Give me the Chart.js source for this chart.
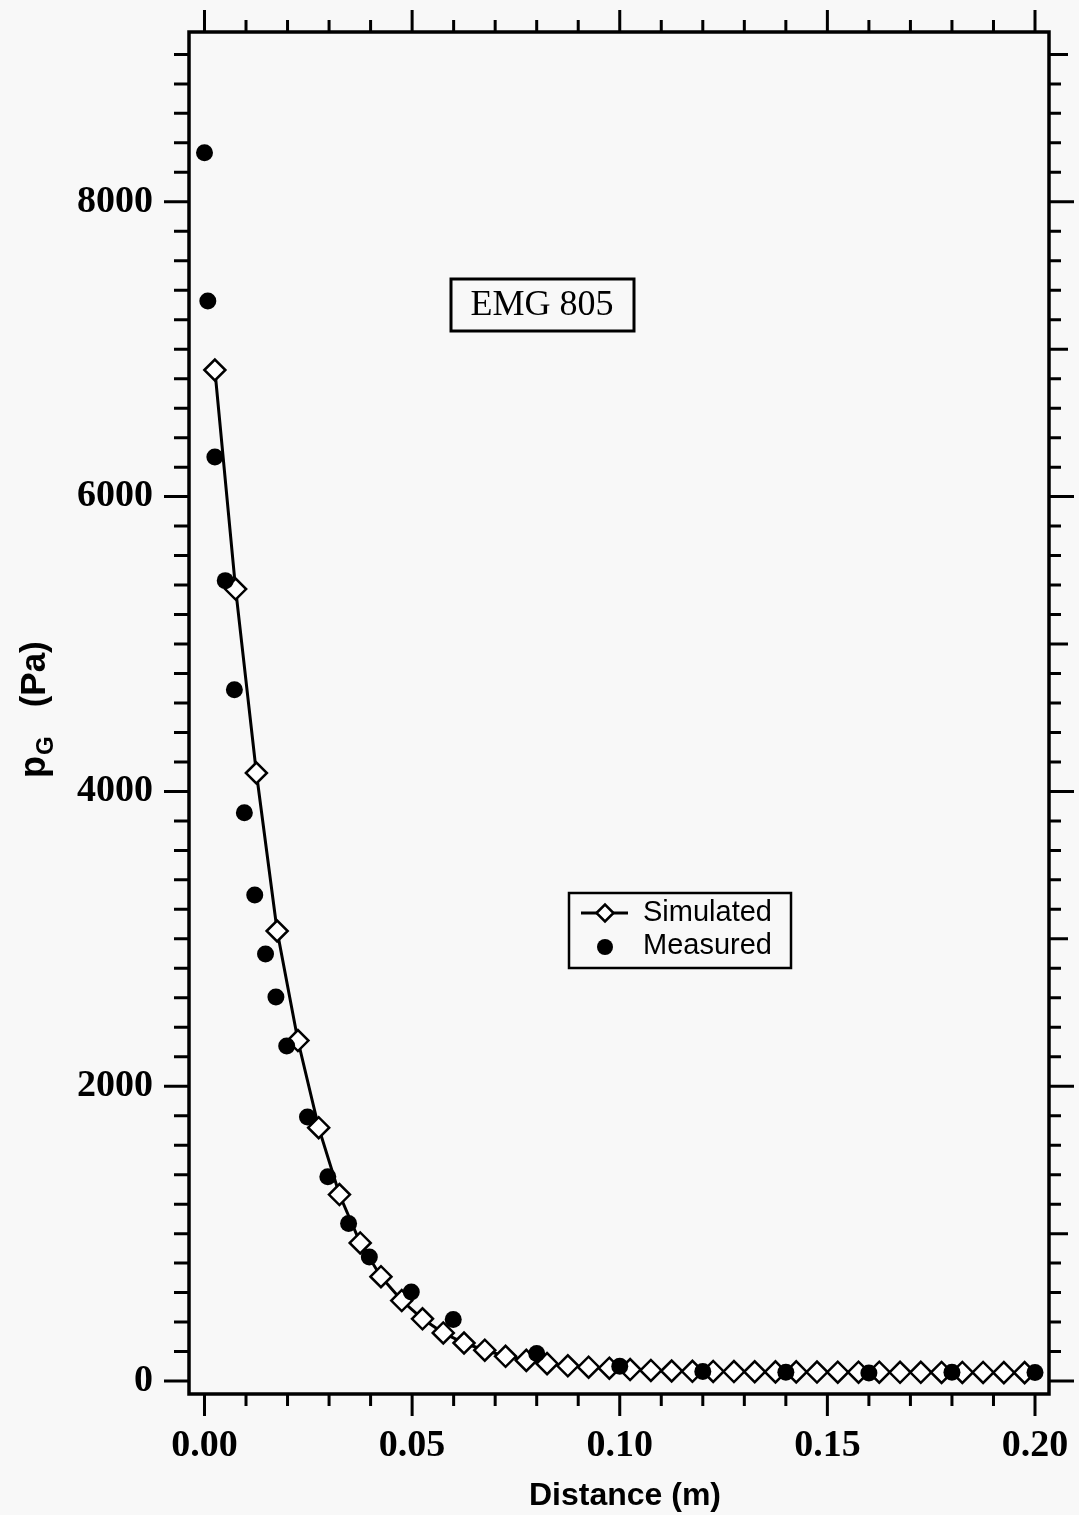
<!DOCTYPE html>
<html>
<head>
<meta charset="utf-8">
<title>EMG 805 gas pressure</title>
<script src="https://cdn.jsdelivr.net/npm/chart.js@4.4.0/dist/chart.umd.min.js"></script>
<style>
  html, body { margin: 0; padding: 0; background: #f8f8f8; }
  canvas { display: block; }
</style>
</head>
<body>
<canvas id="chart" width="1079" height="1515"></canvas>
<script>
// simulated profile (diamonds + line)
const simDistance = [
  0.0025, 0.0075, 0.0125, 0.0175, 0.0225, 0.0275, 0.0325, 0.0375, 0.0425, 0.0475,
  0.0525, 0.0575, 0.0625, 0.0675, 0.0725, 0.0775, 0.0825, 0.0875, 0.0925, 0.0975,
  0.1025, 0.1075, 0.1125, 0.1175, 0.1225, 0.1275, 0.1325, 0.1375, 0.1425, 0.1475,
  0.1525, 0.1575, 0.1625, 0.1675, 0.1725, 0.1775, 0.1825, 0.1875, 0.1925, 0.1975
];
const simPressure = [
  6859, 5373, 4125, 3053, 2310, 1719, 1265, 937, 708, 546,
  422, 326, 258, 209, 168, 140, 118, 103, 94, 87,
  78, 72, 68, 66, 65, 64, 63, 62, 62, 61,
  60, 60, 60, 59, 59, 58, 58, 58, 57, 57
];

// measured points (filled circles)
const measDistance = [
  0.0, 0.0008, 0.0025, 0.005, 0.0072, 0.0096, 0.0121, 0.0147, 0.0172, 0.0198,
  0.0248, 0.0297, 0.0347, 0.0397, 0.0498, 0.0599, 0.080, 0.100, 0.120, 0.140,
  0.160, 0.180, 0.200
];
const measPressure = [
  8333, 7327, 6269, 5430, 4690, 3855, 3297, 2897, 2605, 2273,
  1791, 1386, 1069, 841, 604, 417, 187, 100, 65, 60,
  55, 60, 58
];

const xTickLabels = [0, 0.05, 0.10, 0.15, 0.20];
const yTickLabels = [0, 2000, 4000, 6000, 8000];

const xMin = -0.00373, xMax = 0.20337;
const yMin = -88, yMax = 9152;

const toPoints = (xs, ys) => xs.map((x, i) => ({ x: x, y: ys[i] }));

function diamond(ctx, x, y, r) {
  ctx.beginPath();
  ctx.moveTo(x - r, y);
  ctx.lineTo(x, y - r);
  ctx.lineTo(x + r, y);
  ctx.lineTo(x, y + r);
  ctx.closePath();
  ctx.fill();
  ctx.stroke();
}

const framePlugin = {
  id: 'frame',
  afterDraw(chart) {
    const { ctx, chartArea: a, scales } = chart;
    const xs = scales.x, ys = scales.y;
    ctx.save();
    ctx.strokeStyle = '#000';
    ctx.fillStyle = '#000';

    // box round the plot
    ctx.lineWidth = 3.5;
    ctx.strokeRect(a.left, a.top, a.right - a.left, a.bottom - a.top);

    // outward ticks on all four sides
    ctx.lineWidth = 3;
    ctx.beginPath();
    for (let i = 0; i <= 20; i++) {
      const px = xs.getPixelForValue(i / 100);
      const len = i % 5 === 0 ? 22 : 12;
      ctx.moveTo(px, a.bottom); ctx.lineTo(px, a.bottom + len);
      ctx.moveTo(px, a.top); ctx.lineTo(px, a.top - len);
    }
    for (let i = 0; i <= 45; i++) {
      const v = i * 200;
      const py = ys.getPixelForValue(v);
      const major = v % 2000 === 0;
      ctx.moveTo(a.left, py); ctx.lineTo(a.left - (major ? 25 : 15), py);
      ctx.moveTo(a.right, py); ctx.lineTo(a.right + (major ? 25 : (v % 1000 === 0 ? 19 : 12)), py);
    }
    ctx.stroke();

    // axis titles
    ctx.font = 'bold 32px "Liberation Sans"';
    ctx.textAlign = 'center';
    ctx.textBaseline = 'alphabetic';
    ctx.fillText('Distance (m)', 625, 1505);

    ctx.save();
    ctx.translate(45, 778);
    ctx.rotate(-Math.PI / 2);
    ctx.textAlign = 'left';
    ctx.font = 'bold 36px "Liberation Sans"';
    ctx.fillText('p', 0, 0);
    const pw = ctx.measureText('p').width;
    ctx.font = 'bold 24px "Liberation Sans"';
    ctx.fillText('G', pw + 1, 8);
    const gw = ctx.measureText('G').width;
    ctx.font = 'bold 35px "Liberation Sans"';
    ctx.fillText('(Pa)', pw + gw + 30, 0);
    ctx.restore();

    // label box
    ctx.lineWidth = 3;
    ctx.strokeRect(451, 279, 183, 52);
    ctx.font = '36px "Liberation Serif"';
    ctx.textAlign = 'center';
    ctx.textBaseline = 'middle';
    ctx.fillText('EMG 805', 542, 306);

    // legend
    ctx.lineWidth = 2.5;
    ctx.strokeRect(569, 893, 222, 75);
    ctx.lineWidth = 3;
    ctx.beginPath();
    ctx.moveTo(581, 913); ctx.lineTo(628, 913);
    ctx.stroke();
    ctx.fillStyle = '#fff';
    ctx.lineWidth = 2.5;
    diamond(ctx, 605, 913, 8.5);
    ctx.fillStyle = '#000';
    ctx.beginPath();
    ctx.arc(605, 947, 8, 0, Math.PI * 2);
    ctx.fill();
    ctx.font = '29px "Liberation Sans"';
    ctx.textAlign = 'left';
    ctx.textBaseline = 'middle';
    ctx.fillText('Simulated', 643, 913);
    ctx.fillText('Measured', 643, 946);

    ctx.restore();
  }
};

const tickFontSerif = { family: '"Liberation Serif", serif', size: 38, weight: 'bold' };

new Chart(document.getElementById('chart'), {
  type: 'scatter',
  data: {
    datasets: [
      {
        label: 'Simulated',
        data: toPoints(simDistance, simPressure),
        showLine: true,
        borderColor: '#000',
        borderWidth: 3,
        tension: 0,
        pointStyle: 'rectRot',
        pointRadius: 10.5,
        pointBorderWidth: 2.5,
        pointBackgroundColor: '#fff',
        pointBorderColor: '#000',
        order: 1
      },
      {
        label: 'Measured',
        data: toPoints(measDistance, measPressure),
        showLine: false,
        pointStyle: 'circle',
        pointRadius: 8.5,
        pointBorderWidth: 0,
        pointBackgroundColor: '#000',
        pointBorderColor: '#000',
        order: 0
      }
    ]
  },
  options: {
    responsive: false,
    animation: false,
    events: [],
    layout: { padding: 0 },
    plugins: { legend: { display: false }, tooltip: { enabled: false } },
    scales: {
      x: {
        type: 'linear', position: 'bottom', min: xMin, max: xMax,
        afterBuildTicks: s => { s.ticks = xTickLabels.map(v => ({ value: v })); },
        afterFit: s => { s.height = 121; },
        grid: { display: false, drawTicks: true, tickLength: 29 },
        border: { display: false },
        ticks: {
          padding: 0, color: '#000', font: tickFontSerif,
          maxRotation: 0, autoSkip: false,
          callback: v => Number(v).toFixed(2)
        }
      },
      xTop: {
        type: 'linear', position: 'top', min: xMin, max: xMax,
        afterFit: s => { s.height = 32; },
        grid: { display: false, drawTicks: false },
        border: { display: false },
        ticks: { display: false, padding: 0 }
      },
      y: {
        type: 'linear', position: 'left', min: yMin, max: yMax,
        afterBuildTicks: s => { s.ticks = yTickLabels.map(v => ({ value: v })); },
        afterFit: s => { s.width = 189; },
        grid: { display: false, drawTicks: true, tickLength: 36 },
        border: { display: false },
        ticks: {
          padding: 0, color: '#000', font: tickFontSerif,
          callback: v => String(v)
        }
      },
      yRight: {
        type: 'linear', position: 'right', min: yMin, max: yMax,
        afterFit: s => { s.width = 30; },
        grid: { display: false, drawTicks: false },
        border: { display: false },
        ticks: { display: false, padding: 0 }
      }
    }
  },
  plugins: [framePlugin]
});
</script>
</body>
</html>
